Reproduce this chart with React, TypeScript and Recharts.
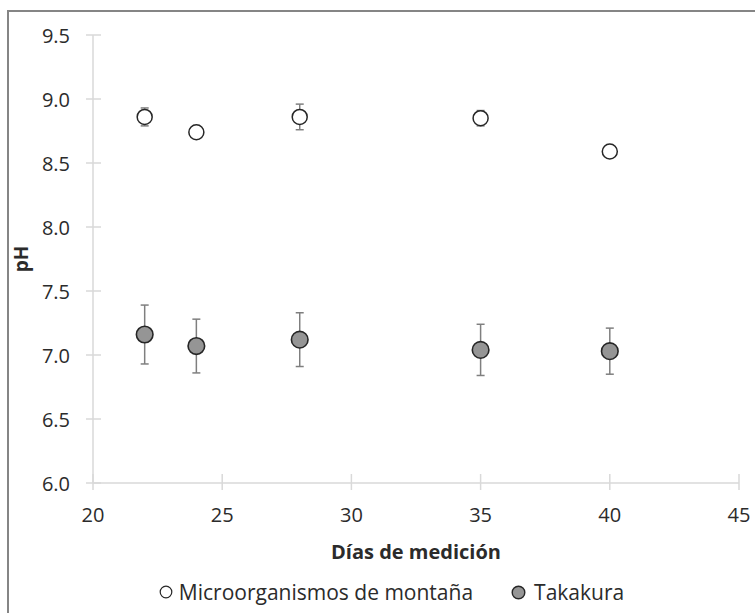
import React from 'react';
import { ScatterChart, Scatter, XAxis, YAxis, ErrorBar, Legend } from 'recharts';

// pH readings per measurement day, with standard deviation
const microDays = [22, 24, 28, 35, 40];
const microPh = [8.86, 8.74, 8.86, 8.85, 8.59];
const microErr = [0.07, 0.03, 0.1, 0.06, 0.03];

const takaDays = [22, 24, 28, 35, 40];
const takaPh = [7.16, 7.07, 7.12, 7.04, 7.03];
const takaErr = [0.23, 0.21, 0.21, 0.2, 0.18];

const xTicks = [20, 25, 30, 35, 40, 45];
const yTicks = [6, 6.5, 7, 7.5, 8, 8.5, 9, 9.5];

const seriesNames = ['Microorganismos de montaña', 'Takakura'];

const microData = microDays.map((d, i) => ({ day: d, ph: microPh[i], err: microErr[i] }));
const takaData = takaDays.map((d, i) => ({ day: d, ph: takaPh[i], err: takaErr[i] }));

const FONT = '"Open Sans", sans-serif';
const AXIS = '#d9d9d9';
const TEXT = '#2b2b2b';

const TICK_SIZE = 7;
const TICK_MARGIN = 16;

const YTick = (props: any) => {
  const { x, y, payload } = props;
  const ax = x + TICK_SIZE + TICK_MARGIN;
  return (
    <g>
      <line x1={ax - 7} x2={ax + 8} y1={y} y2={y} stroke={AXIS} strokeWidth={1.5} />
      <text x={x} y={y} textAnchor="end" dominantBaseline="central" fill={TEXT} fontSize={20} fontFamily={FONT}>
        {payload.value.toFixed(1)}
      </text>
    </g>
  );
};

const XTick = (props: any) => {
  const { x, y, payload } = props;
  const ay = y - TICK_SIZE - 8;
  return (
    <g>
      <line x1={x} x2={x} y1={ay - 9} y2={ay + 7} stroke={AXIS} strokeWidth={1.5} />
      <text x={x} y={ay + 31} textAnchor="middle" dominantBaseline="central" fill={TEXT} fontSize={20} fontFamily={FONT}>
        {payload.value}
      </text>
    </g>
  );
};

const OpenDot = ({ cx, cy }: any) => (
  <circle cx={cx} cy={cy} r={7.5} fill="#ffffff" stroke="#262626" strokeWidth={1.5} />
);

const GrayDot = ({ cx, cy }: any) => (
  <circle cx={cx} cy={cy} r={8.3} fill="#959595" stroke="#262626" strokeWidth={1.6} />
);

const LegendBox = () => (
  <div style={{ display: 'flex', justifyContent: 'center', alignItems: 'center', fontFamily: FONT, fontSize: 21, color: TEXT }}>
    <svg width={14} height={14} style={{ marginRight: 6 }}>
      <circle cx={7} cy={7} r={5.8} fill="#fff" stroke="#262626" strokeWidth={1.2} />
    </svg>
    <span style={{ marginRight: 38 }}>{seriesNames[0]}</span>
    <svg width={15} height={15} style={{ marginRight: 8 }}>
      <circle cx={7.5} cy={7.5} r={6.3} fill="#959595" stroke="#262626" strokeWidth={1.4} />
    </svg>
    <span>{seriesNames[1]}</span>
  </div>
);

const XLabel = ({ viewBox }: any) => (
  <text
    x={viewBox.x + viewBox.width / 2}
    y={viewBox.y + 68}
    textAnchor="middle"
    dominantBaseline="central"
    fontWeight="bold"
    fontSize={20}
    fill={TEXT}
    fontFamily={FONT}
  >
    Días de medición
  </text>
);

const YLabel = ({ viewBox }: any) => {
  const cx = 21;
  const cy = viewBox.y + viewBox.height / 2;
  return (
    <text
      x={cx}
      y={cy}
      transform={`rotate(-90 ${cx} ${cy})`}
      textAnchor="middle"
      dominantBaseline="central"
      fontWeight="bold"
      fontSize={19}
      fill={TEXT}
      fontFamily={FONT}
    >
      pH
    </text>
  );
};

export default function App() {
  return (
    <div style={{ position: 'absolute', left: 0, top: 0, width: 755, height: 613, background: '#fff', fontFamily: FONT }}>
      <div
        style={{
          position: 'absolute',
          left: 7,
          top: 10,
          right: 0,
          bottom: 0,
          borderLeft: '2px solid #858585',
          borderTop: '2px solid #858585',
        }}
      />
      <ScatterChart width={755} height={613} margin={{ top: 35, right: 16, left: 0, bottom: 0 }}>
        <XAxis
          type="number"
          dataKey="day"
          domain={[20, 45]}
          ticks={xTicks}
          allowDataOverflow
          stroke={AXIS}
          strokeWidth={1.5}
          tickLine={false}
          tickSize={TICK_SIZE}
          tickMargin={8}
          tick={<XTick />}
          height={130}
          label={<XLabel />}
        />
        <YAxis
          type="number"
          dataKey="ph"
          domain={[6, 9.5]}
          ticks={yTicks}
          allowDataOverflow
          stroke={AXIS}
          strokeWidth={1.5}
          tickLine={false}
          tickSize={TICK_SIZE}
          tickMargin={TICK_MARGIN}
          tick={<YTick />}
          width={93}
          label={<YLabel />}
        />
        <Legend
          verticalAlign="middle"
          align="center"
          content={<LegendBox />}
          wrapperStyle={{ top: 578, left: 14, width: 755 }}
        />
        <Scatter name={seriesNames[0]} data={microData} shape={<OpenDot />} isAnimationActive={false}>
          <ErrorBar dataKey="err" direction="y" width={4} stroke="#7f7f7f" strokeWidth={1.5} />
        </Scatter>
        <Scatter name={seriesNames[1]} data={takaData} shape={<GrayDot />} isAnimationActive={false}>
          <ErrorBar dataKey="err" direction="y" width={4} stroke="#7f7f7f" strokeWidth={1.5} />
        </Scatter>
      </ScatterChart>
    </div>
  );
}
